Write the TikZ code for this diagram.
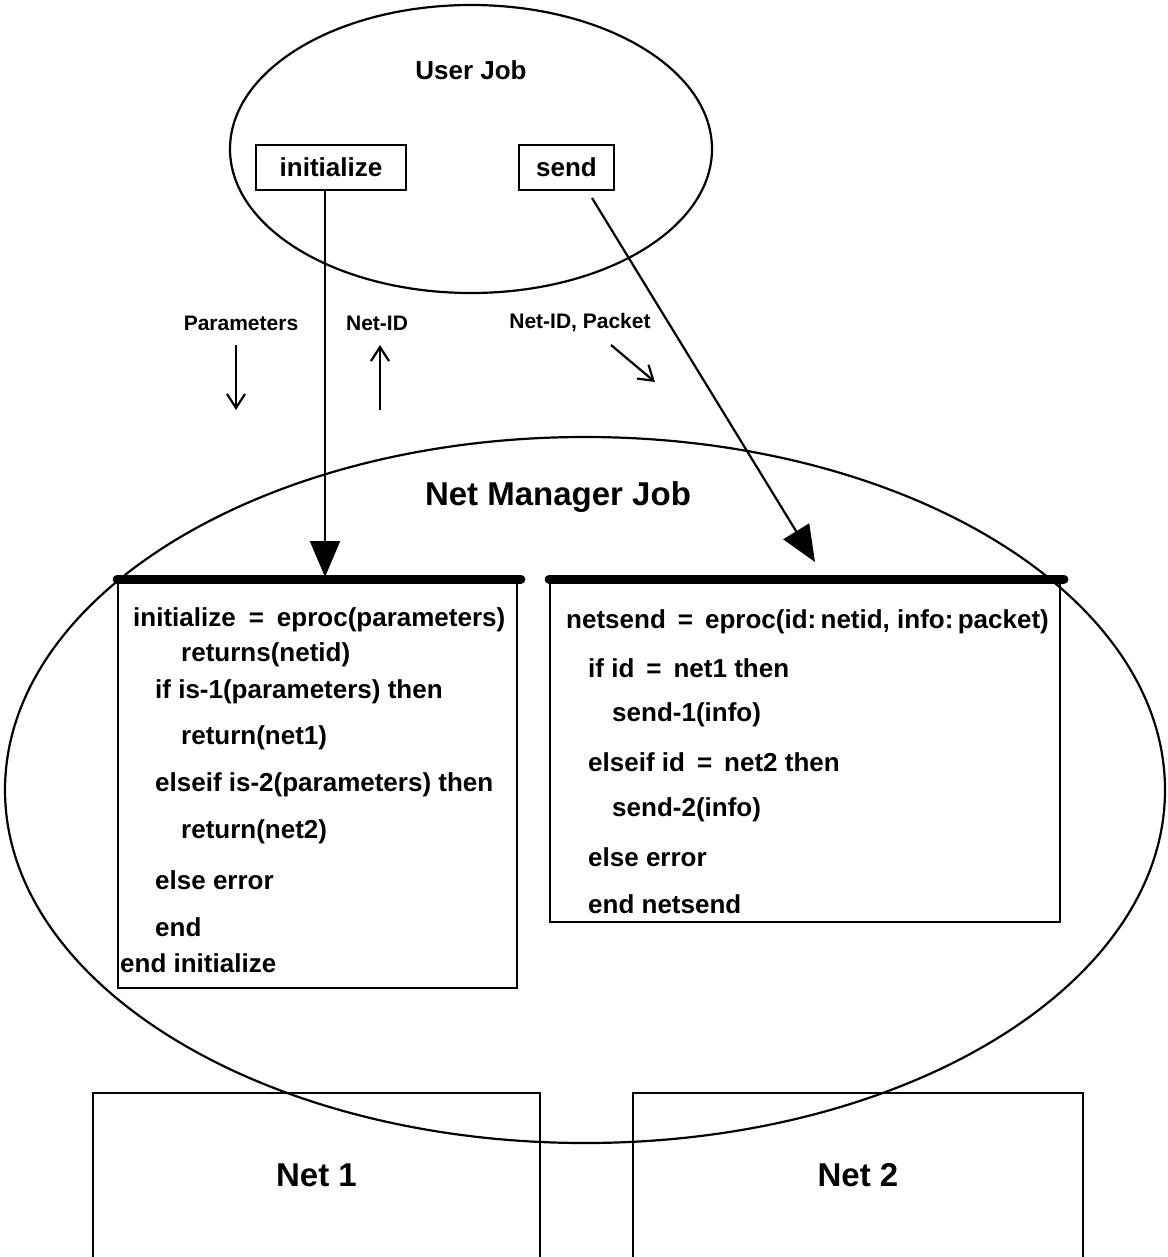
\documentclass[tikz,border=0pt]{standalone}
\usepackage{fontspec}
\setmainfont{Liberation Sans}
\usetikzlibrary{shapes.geometric,arrows.meta}

\tikzset{
    job/.style={draw, ellipse, line width=2.2pt, inner sep=0pt},
    jobtitle/.style={font=\fontsize{26}{30}\selectfont\bfseries},
    callbox/.style={draw, line width=1.8pt, inner sep=0pt, font=\fontsize{26}{30}\selectfont\bfseries},
    codebox/.style={draw, line width=1.8pt, inner sep=0pt},
    codeline/.style={anchor=west, inner sep=0pt, font=\fontsize{26}{30}\selectfont\bfseries},
    msg/.style={font=\fontsize{21}{24}\selectfont\bfseries},
    netbox/.style={inner sep=0pt, font=\fontsize{33}{38}\selectfont\bfseries},
    bigarrow/.style={line width=2.2pt, -{Triangle[length=36pt,width=30pt]}},
    smallarrow/.style={line width=2.2pt, -{Straight Barb[length=14pt,width=18pt]}},
}
\newcommand{\eqgap}{\hspace{12pt}}

\begin{document}
\begin{tikzpicture}[x=1pt, y=-1pt]  % pixel coordinates, y downwards

    \useasboundingbox (0,0) rectangle (1167,1257);

    % User Job
    \node[job, minimum width=482pt, minimum height=288pt] (userjob) at (471,149) {};
    \node[jobtitle] (usertitle) at (471,70) {User Job};
    \node[callbox, minimum width=150pt, minimum height=45pt] (init) at (331,167.5) {initialize};
    \node[callbox, minimum width=95pt, minimum height=45pt] (send) at (566.5,167.5) {send};

    % messages between the jobs
    \node[msg] (params) at (241,323) {Parameters};
    \node[msg] (netid) at (377,323) {Net-ID};
    \node[msg] (packet) at (580,323) {Net-ID, Packet};
    \coordinate (paramstop) at (236,345);
    \coordinate (paramsbot) at (236,410);
    \coordinate (netidtop) at (380,345);
    \coordinate (netidbot) at (380,410);
    \coordinate (packettop) at (611,345);
    \coordinate (packetbot) at (655,382);
    \draw[smallarrow] (paramstop) -- (paramsbot);
    \draw[smallarrow] (netidbot) -- (netidtop);
    \draw[smallarrow] (packettop) -- (packetbot);

    % Net Manager Job
    \node[job, minimum width=1160pt, minimum height=706pt] (netmgr) at (585,790) {};
    \node[jobtitle, font=\fontsize{33}{38}\selectfont\bfseries] (mgrtitle) at (558,497) {Net Manager Job};

    % the two entry procedures
    \node[codebox, minimum width=399pt, minimum height=408pt] (initcode) at (317.5,784) {};
    \node[codebox, minimum width=510pt, minimum height=342pt] (sendcode) at (805,751) {};
    \draw[line width=9pt, line cap=round] (initcode.north west) -- ([xshift=3pt]initcode.north east);
    \draw[line width=9pt, line cap=round] (sendcode.north west) -- ([xshift=3pt]sendcode.north east);

    \foreach \x/\y/\txt [count=\i] in {
        133/620/{initialize\enspace=\enspace eproc(parameters)},
        181/655/{returns(netid)},
        155/692/{if is-1(parameters) then},
        181/738/{return(net1)},
        155/785/{elseif is-2(parameters) then},
        181/832/{return(net2)},
        155/880/{else error},
        155/927/{end},
        120/963/{end initialize}}
        \node[codeline] (initline\i) at (\x,\y) {\txt};

    \foreach \x/\y/\txt [count=\i] in {
        566/622/{netsend\eqgap=\eqgap eproc(id:\,netid, info:\,packet)},
        588/668/{if id\eqgap=\eqgap net1 then},
        612/715/{send-1(info)},
        588/762/{elseif id\eqgap=\eqgap net2 then},
        612/810/{send-2(info)},
        588/857/{else error},
        588/904/{end netsend}}
        \node[codeline] (sendline\i) at (\x,\y) {\txt};

    % calls into the Net Manager Job
    \coordinate (initend) at (325,577);
    \coordinate (sendstart) at (592,198);
    \coordinate (sendend) at (815,562);
    \draw[bigarrow] (init.south -| initend) -- (initend);
    \draw[bigarrow] (sendstart) -- (sendend);

    % the two nets
    \node[netbox, minimum width=447pt, minimum height=164pt] (net1) at (316.5,1175) {Net 1};
    \node[netbox, minimum width=450pt, minimum height=164pt] (net2) at (858,1175) {Net 2};
    \draw[line width=1.8pt] (net1.south west) |- (net1.north east) -- (net1.south east);
    \draw[line width=1.8pt] (net2.south west) |- (net2.north east) -- (net2.south east);

\end{tikzpicture}
\end{document}
